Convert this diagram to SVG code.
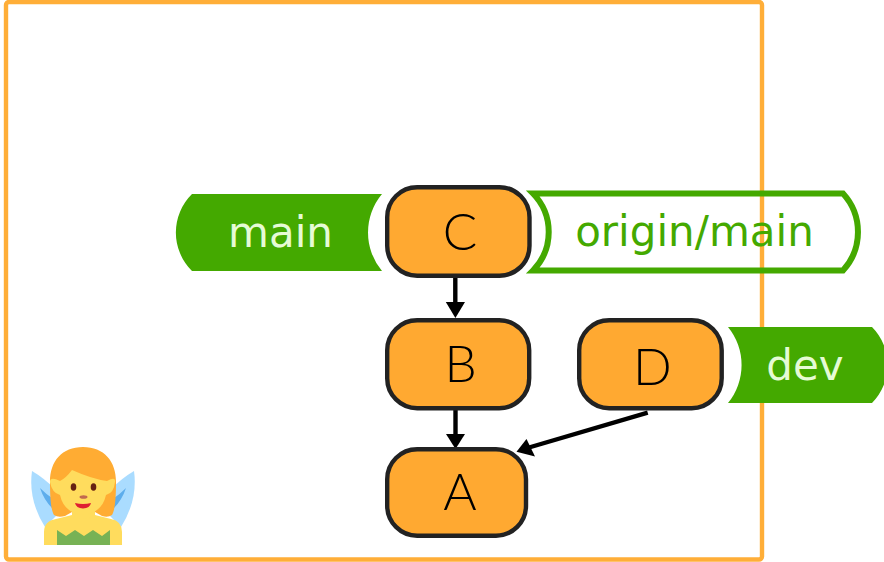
<svg xmlns="http://www.w3.org/2000/svg" width="884" height="562" viewBox="0 0 884 562">
<style>
.node{fill:#ffa931;stroke:#222;stroke-width:4.4}
.nl{font-family:"Lato","Liberation Sans",sans-serif;font-weight:300;font-size:51px;fill:#000;text-anchor:middle}
.tl{font-family:"DejaVu Sans",sans-serif;font-size:42px;text-anchor:middle}
.tag{fill:#44a900}
.edge{stroke:#000;stroke-width:4.4;fill:none}
.head{fill:#000}
</style>
<rect id="frame" x="6" y="2" width="756" height="557.500" rx="3" fill="#fff" stroke="#ffae38" stroke-width="4.400"/>
<g id="fairy">
<path d="M32 471Q44 478 56 490L60 512L45 527Q28 500 32 471Z" fill="#aadcff"/>
<path d="M134 471Q122 478 110 490L106 512L121 527Q138 500 134 471Z" fill="#aadcff"/>
<path d="M40 488Q44 500 52 508L52 498Q46 494 40 488Z" fill="#5dadec"/>
<path d="M126 488Q122 500 114 508L114 498Q120 494 126 488Z" fill="#5dadec"/>
<path d="M44 545V532Q44 521 56 519L72 515H95L111 519Q122 521 122 532V545Z" fill="#ffdc5d"/>
<path d="M57 545V530L66 536L75 530L84 536L93 530L102 536L110 530V545Z" fill="#77b255"/>
<path d="M83 447C62 447 50 461 50 482C50 498 51 510 54 515Q58 518 65 516L72 512L95 512L102 516Q108 518 112 515C115 510 116 498 116 482C116 461 104 447 83 447Z" fill="#ffac33"/>
<path d="M72 505H95V516Q84 521 72 516Z" fill="#ffdc5d"/>
<path d="M60 481Q50 476 50 482Q52 493 60 495Q64 513 83 515Q102 513 106 495Q114 493 115 482Q116 476 107 481Q92 479 72 470Q66 478 60 481Z" fill="#ffdc5d"/>
<ellipse cx="73.500" cy="487" rx="2.800" ry="3.800" fill="#662113"/>
<ellipse cx="93.500" cy="487" rx="2.800" ry="3.800" fill="#662113"/>
<ellipse cx="83.500" cy="497" rx="4" ry="1.800" fill="#c1694f"/>
<path d="M75 503Q83 505 91 503Q90 508 83 508.500Q76 508 75 503Z" fill="#df1f32"/>
</g>
<g id="connectors">
<path class="edge" d="M455.300 277V303"/>
<path class="head" d="M445.800 302H465L455.400 318Z"/>
<path class="edge" d="M455.500 410V435"/>
<path class="head" d="M446 434H465L455.500 449Z"/>
<path class="edge" d="M647.700 412.700L529 447.500"/>
<path class="head" d="M516.500 451.700L526.500 439L535 456.500Z"/>
</g>
<g id="tag-main">
<path class="tag" d="M192 194H382A60 60 0 0 0 382 271H192A54 54 0 0 1 192 194Z"/>
<text class="tl" x="280.500" y="247" fill="#e6fbd5">main</text>
</g>
<g id="tag-origin-main">
<path d="M533 193.500H843A57 57 0 0 1 843 270.500H533A55 55 0 0 0 533 193.500Z" fill="none" stroke="#44a900" stroke-width="6"/>
<text class="tl" x="694.500" y="246" fill="#44a900">origin/main</text>
</g>
<g id="tag-dev">
<path class="tag" d="M728 327H872A54 54 0 0 1 872 403H728A60 60 0 0 0 728 327Z"/>
<text class="tl" x="805" y="380" fill="#e6fbd5">dev</text>
</g>
<g id="node-C"><rect class="node" x="387.200" y="187.200" width="142.300" height="88.500" rx="30"/><text class="nl" x="460" y="250">C</text></g>
<g id="node-B"><rect class="node" x="387.200" y="320.200" width="142" height="88" rx="30"/><text class="nl" x="460.500" y="382">B</text></g>
<g id="node-A"><rect class="node" x="387.200" y="449.200" width="138.800" height="86.500" rx="30"/><text class="nl" x="460" y="510">A</text></g>
<g id="node-D"><rect class="node" x="579.200" y="320.200" width="142.500" height="88" rx="30"/><text class="nl" x="652.500" y="385">D</text></g>
</svg>
